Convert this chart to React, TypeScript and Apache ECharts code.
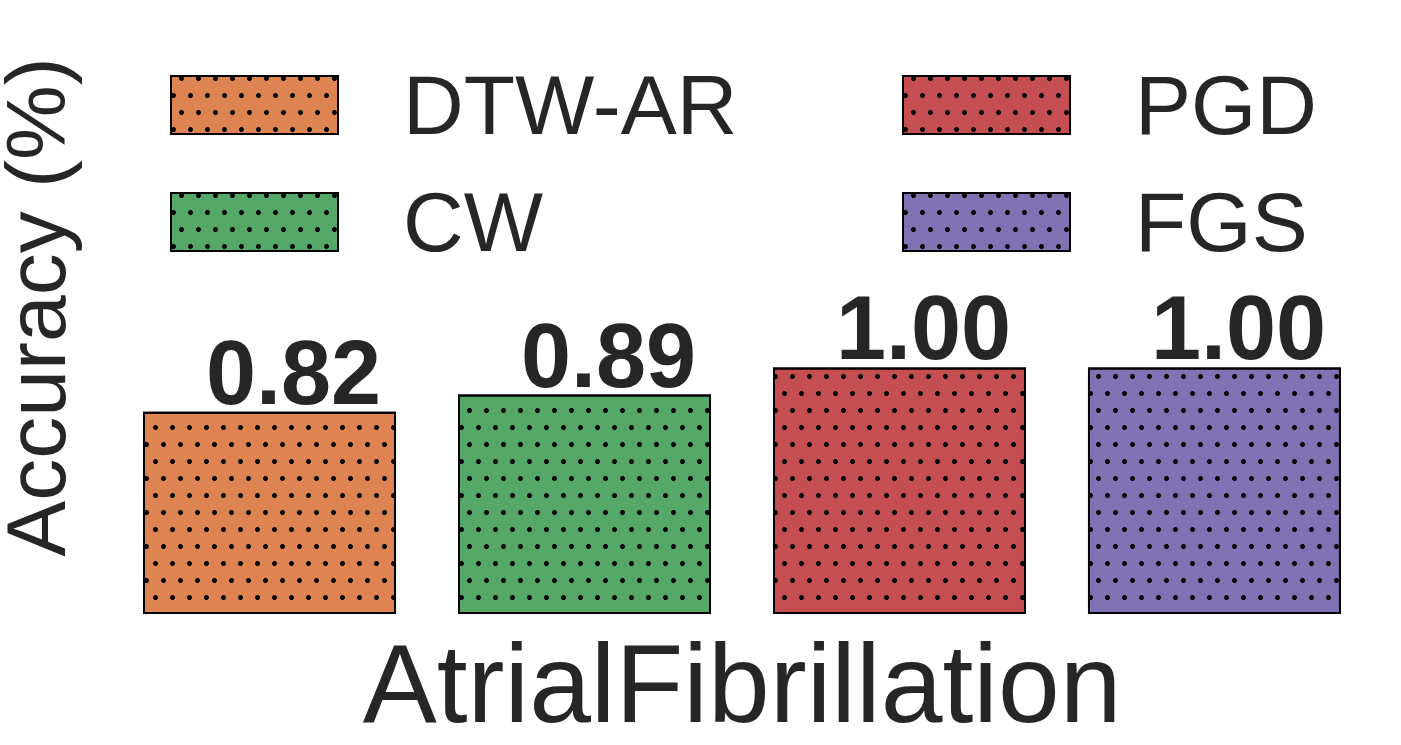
import React, { useEffect, useRef } from "react";
import * as echarts from "echarts";

const categories = ["AtrialFibrillation"];
const seriesNames = ["DTW-AR", "CW", "PGD", "FGS"];
const seriesValues = [[0.82], [0.89], [1.0], [1.0]];
const seriesColors = ["#DD8452", "#55A868", "#C44E52", "#8172B3"];
const legendCol1 = ["DTW-AR", "CW"];
const legendCol2 = ["PGD", "FGS"];

const FONT = "'Liberation Sans', Arial, Helvetica, sans-serif";
const TEXT = "#262626";

export default function App() {
  const ref = useRef<HTMLDivElement>(null);
  useEffect(() => {
    if (!ref.current) return;
    const chart = echarts.init(ref.current, null, { renderer: "svg" });
    const decal = {
      symbol: "circle",
      symbolSize: 1,
      color: "#000000",
      dashArrayX: [
        [5, 12],
        [0, 8, 5, 4],
      ],
      dashArrayY: [5, 12],
      rotation: 0,
    };
    const legendBase = {
      orient: "vertical",
      top: 63,
      padding: 0,
      itemWidth: 167,
      itemHeight: 58,
      itemGap: 33,
      icon: "rect",
      textStyle: {
        fontFamily: FONT,
        fontSize: 84,
        color: TEXT,
        padding: [0, 0, 0, 60],
      },
    };
    chart.setOption({
      animation: false,
      aria: { enabled: true, decal: { show: true } },
      textStyle: { fontFamily: FONT },
      legend: [
        { ...legendBase, left: 170, data: legendCol1 },
        { ...legendBase, left: 902, data: legendCol2 },
      ],
      grid: {
        left: 100,
        right: 17,
        top: 0,
        bottom: 131,
        containLabel: false,
        outerBoundsMode: "none",
      },
      xAxis: {
        type: "category",
        data: categories,
        axisLine: { show: false },
        axisTick: { show: false },
        axisLabel: {
          fontFamily: FONT,
          fontSize: 111,
          color: TEXT,
          margin: 14,
        },
      },
      yAxis: {
        type: "value",
        min: 0,
        max: 2.49,
        axisLine: { show: false },
        axisTick: { show: false },
        axisLabel: { show: false },
        splitLine: { show: false },
        name: "Accuracy (%)",
        nameLocation: "middle",
        nameRotate: 90,
        nameGap: 22,
        nameTextStyle: { fontFamily: FONT, fontSize: 84, color: TEXT },
      },
      series: seriesNames.map((name, i) => ({
        name,
        type: "bar",
        data: seriesValues[i],
        barWidth: 253,
        barGap: "24.5%",
        itemStyle: {
          color: seriesColors[i],
          borderColor: "#000000",
          borderWidth: 2,
          decal,
        },
        label: {
          show: true,
          position: "top",
          distance: 0,
          offset: [24, 6],
          fontFamily: FONT,
          fontSize: 90,
          fontWeight: "bold",
          color: TEXT,
          formatter: (p: any) => Number(p.value).toFixed(2),
        },
      })),
    });
    return () => chart.dispose();
  }, []);
  return (
    <div
      ref={ref}
      style={{ position: "absolute", left: 0, top: 0, width: 1401, height: 745 }}
    />
  );
}
